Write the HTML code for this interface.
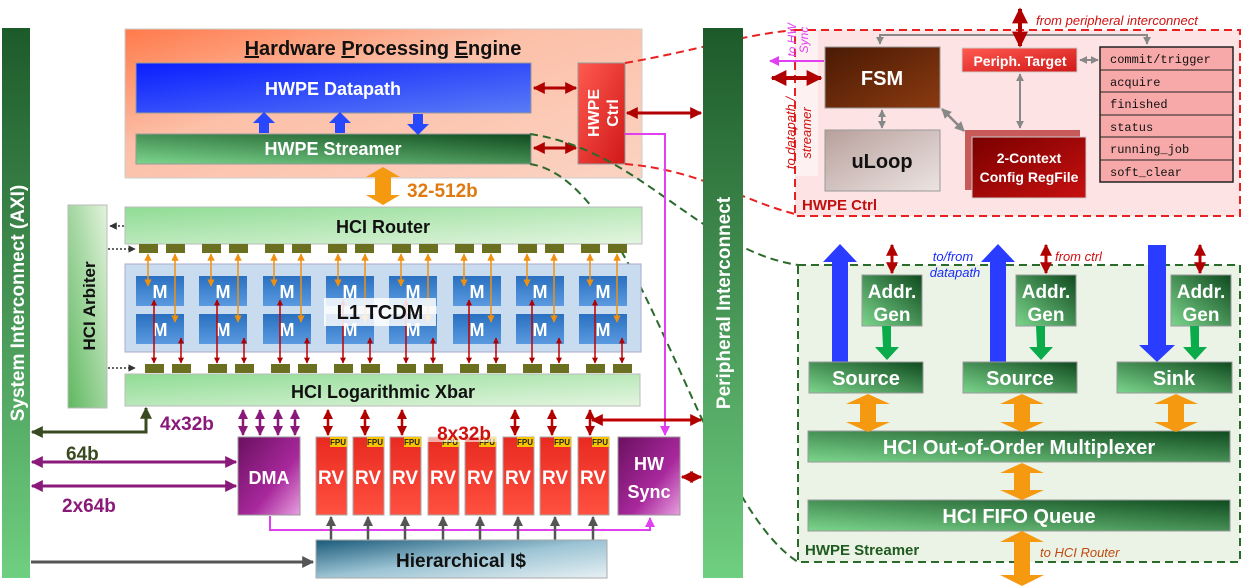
<!DOCTYPE html>
<html><head><meta charset="utf-8"><style>
html,body{margin:0;padding:0;background:#fff;}
svg{display:block;font-family:"Liberation Sans",sans-serif;}
</style></head><body>
<svg width="1246" height="587" viewBox="0 0 1246 587" xmlns="http://www.w3.org/2000/svg">
<defs>
<linearGradient id="gbar" x1="0" y1="0" x2="0" y2="1"><stop offset="0" stop-color="#1d5a2a"/><stop offset="1" stop-color="#6fcf80"/></linearGradient>
<linearGradient id="hpe" x1="0" y1="0" x2="1" y2="1"><stop offset="0" stop-color="#ff7a4a"/><stop offset="0.4" stop-color="#fcc0a8"/><stop offset="1" stop-color="#fbd3c3"/></linearGradient>
<linearGradient id="blue" x1="0" y1="0" x2="1" y2="1"><stop offset="0" stop-color="#0a1dff"/><stop offset="1" stop-color="#5a7cf5"/></linearGradient>
<linearGradient id="dgreen" x1="1" y1="0" x2="0" y2="1"><stop offset="0" stop-color="#0f4a1e"/><stop offset="1" stop-color="#7cd68c"/></linearGradient>
<linearGradient id="lgreen" x1="0" y1="0" x2="1" y2="1"><stop offset="0" stop-color="#8fdc94"/><stop offset="1" stop-color="#e4f5e0"/></linearGradient>
<linearGradient id="arb" x1="0" y1="1" x2="1" y2="0"><stop offset="0" stop-color="#5fb860"/><stop offset="1" stop-color="#e2f3dc"/></linearGradient>
<linearGradient id="red" x1="0" y1="0" x2="1" y2="1"><stop offset="0" stop-color="#ff5a50"/><stop offset="1" stop-color="#d01818"/></linearGradient>
<linearGradient id="rv" x1="0" y1="0" x2="0" y2="1"><stop offset="0" stop-color="#e82a20"/><stop offset="1" stop-color="#ff5040"/></linearGradient>
<linearGradient id="purp" x1="0" y1="0" x2="1" y2="1"><stop offset="0" stop-color="#6a1060"/><stop offset="0.6" stop-color="#a8289c"/><stop offset="1" stop-color="#e8a0e0"/></linearGradient>
<linearGradient id="mb" x1="0" y1="0" x2="0" y2="1"><stop offset="0" stop-color="#2a70c0"/><stop offset="1" stop-color="#5a9ae0"/></linearGradient>
<linearGradient id="ic" x1="0" y1="0" x2="1" y2="1"><stop offset="0" stop-color="#1a5a7a"/><stop offset="0.5" stop-color="#9cc4d4"/><stop offset="1" stop-color="#e8f0f4"/></linearGradient>
<linearGradient id="fsm" x1="0" y1="0" x2="1" y2="1"><stop offset="0" stop-color="#4a1a05"/><stop offset="1" stop-color="#8a3a10"/></linearGradient>
<linearGradient id="uloop" x1="0" y1="0" x2="1" y2="1"><stop offset="0" stop-color="#b8a09c"/><stop offset="1" stop-color="#ece4e2"/></linearGradient>
<linearGradient id="cfg" x1="0" y1="0" x2="1" y2="1"><stop offset="0" stop-color="#7a0000"/><stop offset="1" stop-color="#c81010"/></linearGradient>
<marker id="ar" viewBox="0 0 10 10" refX="9" refY="5" markerWidth="4" markerHeight="4" orient="auto-start-reverse"><path d="M0,0L10,5L0,10z" fill="#b00000"/></marker>
<marker id="ap" viewBox="0 0 10 10" refX="9" refY="5" markerWidth="4" markerHeight="4" orient="auto-start-reverse"><path d="M0,0L10,5L0,10z" fill="#8a1a7a"/></marker>
<marker id="ag" viewBox="0 0 10 10" refX="9" refY="5" markerWidth="4" markerHeight="4" orient="auto-start-reverse"><path d="M0,0L10,5L0,10z" fill="#555"/></marker>
<marker id="agr" viewBox="0 0 10 10" refX="9" refY="5" markerWidth="4" markerHeight="4" orient="auto-start-reverse"><path d="M0,0L10,5L0,10z" fill="#888"/></marker>
<marker id="ao" viewBox="0 0 10 10" refX="9" refY="5" markerWidth="5" markerHeight="5" orient="auto-start-reverse"><path d="M0,0L10,5L0,10z" fill="#f09010"/></marker>
<marker id="am" viewBox="0 0 10 10" refX="9" refY="5" markerWidth="5" markerHeight="5" orient="auto-start-reverse"><path d="M0,0L10,5L0,10z" fill="#e040f0"/></marker>
<marker id="aol" viewBox="0 0 10 10" refX="9" refY="5" markerWidth="4" markerHeight="4" orient="auto-start-reverse"><path d="M0,0L10,5L0,10z" fill="#3a4a20"/></marker>
<marker id="adk" viewBox="0 0 10 10" refX="9" refY="5" markerWidth="5" markerHeight="5" orient="auto-start-reverse"><path d="M0,0L10,5L0,10z" fill="#333"/></marker>
</defs>

<!-- System interconnect -->
<rect x="2" y="28" width="28" height="550" fill="url(#gbar)"/>
<text transform="translate(24,303) rotate(-90)" text-anchor="middle" font-size="19" font-weight="bold" fill="#fff">System Interconnect (AXI)</text>

<!-- HPE -->
<rect x="125" y="29" width="517" height="149" fill="url(#hpe)" stroke="#ccc"/>
<text x="383" y="55" text-anchor="middle" font-size="20" font-weight="bold" fill="#111"><tspan text-decoration="underline">H</tspan>ardware <tspan text-decoration="underline">P</tspan>rocessing <tspan text-decoration="underline">E</tspan>ngine</text>
<rect x="136" y="63" width="395" height="50" fill="url(#blue)" stroke="#999"/>
<text x="333" y="95" text-anchor="middle" font-size="18" font-weight="bold" fill="#fff">HWPE Datapath</text>
<rect x="136" y="134" width="395" height="30" fill="url(#dgreen)" stroke="#999"/>
<text x="333" y="155" text-anchor="middle" font-size="18" font-weight="bold" fill="#fff">HWPE Streamer</text>
<path d="M259,133 v-10 h-6 l11,-11 l11,11 h-6 v10z" fill="#2848ff"/>
<path d="M335,133 v-10 h-6 l11,-11 l11,11 h-6 v10z" fill="#2848ff"/>
<path d="M413,114 v10 h-6 l11,11 l11,-11 h-6 v-10z" fill="#2848ff"/>
<rect x="578" y="63" width="47" height="101" fill="url(#red)" stroke="#999"/>
<text transform="translate(599,113) rotate(-90)" text-anchor="middle" font-size="16" font-weight="bold" fill="#fff">HWPE</text>
<text transform="translate(618,113) rotate(-90)" text-anchor="middle" font-size="16" font-weight="bold" fill="#fff">Ctrl</text>
<line x1="534" y1="88" x2="576" y2="88" stroke="#b00000" stroke-width="3" marker-start="url(#ar)" marker-end="url(#ar)"/>
<line x1="534" y1="148" x2="576" y2="148" stroke="#b00000" stroke-width="3" marker-start="url(#ar)" marker-end="url(#ar)"/>

<!-- dashed curves (on top) -->
<path d="M625,63 C700,50 740,35 795,30" fill="none" stroke="#e82020" stroke-width="2" stroke-dasharray="8,5"/>
<path d="M625,164 C700,170 740,200 795,214" fill="none" stroke="#e82020" stroke-width="2" stroke-dasharray="8,5"/>
<path d="M530,134 C640,150 700,250 798,265" fill="none" stroke="#2a6a2a" stroke-width="2" stroke-dasharray="8,5"/>
<path d="M530,164 C640,180 700,500 798,562" fill="none" stroke="#2a6a2a" stroke-width="2" stroke-dasharray="8,5"/>

<!-- Peripheral interconnect -->
<rect x="703" y="28" width="40" height="550" fill="url(#gbar)"/>
<text transform="translate(730,303) rotate(-90)" text-anchor="middle" font-size="19" font-weight="bold" fill="#fff">Peripheral Interconnect</text>
<line x1="627" y1="113" x2="701" y2="113" stroke="#b00000" stroke-width="3" marker-start="url(#ar)" marker-end="url(#ar)"/>

<!-- magenta -->
<path d="M625,134 H665 V435" fill="none" stroke="#e040f0" stroke-width="2" marker-end="url(#am)"/>
<path d="M270,516 V530 H650 V518" fill="none" stroke="#e040f0" stroke-width="2" marker-end="url(#am)"/>

<!-- orange 32-512 -->
<path d="M383,167 l17,10 h-9 v18 h9 l-17,10 l-17,-10 h9 v-18 h-9z" fill="#f59a10"/>
<text x="407" y="197" font-size="19" font-weight="bold" fill="#e07a10">32-512b</text>

<!-- HCI Router -->
<rect x="125" y="207" width="517" height="37" fill="url(#lgreen)" stroke="#bbb"/>
<text x="383" y="233" text-anchor="middle" font-size="18" font-weight="bold" fill="#111">HCI Router</text>
<rect x="68" y="205" width="39" height="203" fill="url(#arb)" stroke="#bbb"/>
<text transform="translate(95,306) rotate(-90)" text-anchor="middle" font-size="17" font-weight="bold" fill="#111">HCI Arbiter</text>
<line x1="124" y1="226" x2="110" y2="226" stroke="#333" stroke-width="1.5" stroke-dasharray="2,2" marker-end="url(#adk)"/>
<line x1="108" y1="249" x2="135" y2="249" stroke="#333" stroke-width="1.5" stroke-dasharray="2,2" marker-end="url(#adk)"/>
<line x1="108" y1="368" x2="135" y2="368" stroke="#333" stroke-width="1.5" stroke-dasharray="2,2" marker-end="url(#adk)"/>

<!-- TCDM -->
<rect x="125" y="264" width="516" height="88" fill="#c9dcef" stroke="#aac"/>
<g fill="#6b7020">
<rect x="139" y="244" width="19" height="9"/><rect x="166" y="244" width="19" height="9"/>
<rect x="202" y="244" width="19" height="9"/><rect x="229" y="244" width="19" height="9"/>
<rect x="265" y="244" width="19" height="9"/><rect x="292" y="244" width="19" height="9"/>
<rect x="328" y="244" width="19" height="9"/><rect x="355" y="244" width="19" height="9"/>
<rect x="392" y="244" width="19" height="9"/><rect x="419" y="244" width="19" height="9"/>
<rect x="455" y="244" width="19" height="9"/><rect x="482" y="244" width="19" height="9"/>
<rect x="518" y="244" width="19" height="9"/><rect x="545" y="244" width="19" height="9"/>
<rect x="581" y="244" width="19" height="9"/><rect x="608" y="244" width="19" height="9"/>
<rect x="145" y="364" width="19" height="9"/><rect x="172" y="364" width="19" height="9"/>
<rect x="208" y="364" width="19" height="9"/><rect x="235" y="364" width="19" height="9"/>
<rect x="271" y="364" width="19" height="9"/><rect x="298" y="364" width="19" height="9"/>
<rect x="334" y="364" width="19" height="9"/><rect x="361" y="364" width="19" height="9"/>
<rect x="397" y="364" width="19" height="9"/><rect x="424" y="364" width="19" height="9"/>
<rect x="460" y="364" width="19" height="9"/><rect x="487" y="364" width="19" height="9"/>
<rect x="523" y="364" width="19" height="9"/><rect x="550" y="364" width="19" height="9"/>
<rect x="586" y="364" width="19" height="9"/><rect x="613" y="364" width="19" height="9"/>
</g>
<g font-size="18" font-weight="bold" fill="#fff" text-anchor="middle">
<rect x="136" y="276" width="48" height="30" fill="url(#mb)"/><rect x="136" y="314" width="48" height="30" fill="url(#mb)"/><text x="160" y="298">M</text><text x="160" y="336">M</text>
<rect x="199" y="276" width="48" height="30" fill="url(#mb)"/><rect x="199" y="314" width="48" height="30" fill="url(#mb)"/><text x="223" y="298">M</text><text x="223" y="336">M</text>
<rect x="263" y="276" width="48" height="30" fill="url(#mb)"/><rect x="263" y="314" width="48" height="30" fill="url(#mb)"/><text x="287" y="298">M</text><text x="287" y="336">M</text>
<rect x="326" y="276" width="48" height="30" fill="url(#mb)"/><rect x="326" y="314" width="48" height="30" fill="url(#mb)"/><text x="350" y="298">M</text><text x="350" y="336">M</text>
<rect x="389" y="276" width="48" height="30" fill="url(#mb)"/><rect x="389" y="314" width="48" height="30" fill="url(#mb)"/><text x="413" y="298">M</text><text x="413" y="336">M</text>
<rect x="453" y="276" width="48" height="30" fill="url(#mb)"/><rect x="453" y="314" width="48" height="30" fill="url(#mb)"/><text x="477" y="298">M</text><text x="477" y="336">M</text>
<rect x="516" y="276" width="48" height="30" fill="url(#mb)"/><rect x="516" y="314" width="48" height="30" fill="url(#mb)"/><text x="540" y="298">M</text><text x="540" y="336">M</text>
<rect x="579" y="276" width="48" height="30" fill="url(#mb)"/><rect x="579" y="314" width="48" height="30" fill="url(#mb)"/><text x="603" y="298">M</text><text x="603" y="336">M</text>
</g>
<g stroke="#f09010" stroke-width="1.5">
<line x1="148" y1="254" x2="148" y2="286" marker-start="url(#ao)" marker-end="url(#ao)"/><line x1="175" y1="254" x2="175" y2="322" marker-start="url(#ao)" marker-end="url(#ao)"/>
<line x1="211" y1="254" x2="211" y2="286" marker-start="url(#ao)" marker-end="url(#ao)"/><line x1="238" y1="254" x2="238" y2="322" marker-start="url(#ao)" marker-end="url(#ao)"/>
<line x1="274" y1="254" x2="274" y2="286" marker-start="url(#ao)" marker-end="url(#ao)"/><line x1="301" y1="254" x2="301" y2="322" marker-start="url(#ao)" marker-end="url(#ao)"/>
<line x1="338" y1="254" x2="338" y2="286" marker-start="url(#ao)" marker-end="url(#ao)"/><line x1="365" y1="254" x2="365" y2="322" marker-start="url(#ao)" marker-end="url(#ao)"/>
<line x1="401" y1="254" x2="401" y2="286" marker-start="url(#ao)" marker-end="url(#ao)"/><line x1="428" y1="254" x2="428" y2="322" marker-start="url(#ao)" marker-end="url(#ao)"/>
<line x1="464" y1="254" x2="464" y2="286" marker-start="url(#ao)" marker-end="url(#ao)"/><line x1="491" y1="254" x2="491" y2="322" marker-start="url(#ao)" marker-end="url(#ao)"/>
<line x1="527" y1="254" x2="527" y2="286" marker-start="url(#ao)" marker-end="url(#ao)"/><line x1="554" y1="254" x2="554" y2="322" marker-start="url(#ao)" marker-end="url(#ao)"/>
<line x1="590" y1="254" x2="590" y2="286" marker-start="url(#ao)" marker-end="url(#ao)"/><line x1="617" y1="254" x2="617" y2="322" marker-start="url(#ao)" marker-end="url(#ao)"/>
</g>
<g stroke="#c00000" stroke-width="1.5">
<line x1="154" y1="363" x2="154" y2="300" marker-start="url(#ar)" marker-end="url(#ar)"/><line x1="181" y1="363" x2="181" y2="338" marker-start="url(#ar)" marker-end="url(#ar)"/>
<line x1="217" y1="363" x2="217" y2="300" marker-start="url(#ar)" marker-end="url(#ar)"/><line x1="244" y1="363" x2="244" y2="338" marker-start="url(#ar)" marker-end="url(#ar)"/>
<line x1="280" y1="363" x2="280" y2="300" marker-start="url(#ar)" marker-end="url(#ar)"/><line x1="307" y1="363" x2="307" y2="338" marker-start="url(#ar)" marker-end="url(#ar)"/>
<line x1="343" y1="363" x2="343" y2="300" marker-start="url(#ar)" marker-end="url(#ar)"/><line x1="370" y1="363" x2="370" y2="338" marker-start="url(#ar)" marker-end="url(#ar)"/>
<line x1="406" y1="363" x2="406" y2="300" marker-start="url(#ar)" marker-end="url(#ar)"/><line x1="433" y1="363" x2="433" y2="338" marker-start="url(#ar)" marker-end="url(#ar)"/>
<line x1="469" y1="363" x2="469" y2="300" marker-start="url(#ar)" marker-end="url(#ar)"/><line x1="496" y1="363" x2="496" y2="338" marker-start="url(#ar)" marker-end="url(#ar)"/>
<line x1="532" y1="363" x2="532" y2="300" marker-start="url(#ar)" marker-end="url(#ar)"/><line x1="559" y1="363" x2="559" y2="338" marker-start="url(#ar)" marker-end="url(#ar)"/>
<line x1="595" y1="363" x2="595" y2="300" marker-start="url(#ar)" marker-end="url(#ar)"/><line x1="622" y1="363" x2="622" y2="338" marker-start="url(#ar)" marker-end="url(#ar)"/>
</g>
<rect x="324" y="298" width="112" height="28" fill="#fff" opacity="0.85"/>
<text x="380" y="319" text-anchor="middle" font-size="20" font-weight="bold" fill="#111">L1 TCDM</text>

<!-- Xbar -->
<rect x="125" y="374" width="515" height="32" fill="url(#lgreen)" stroke="#bbb"/>
<text x="383" y="398" text-anchor="middle" font-size="18" font-weight="bold" fill="#111">HCI Logarithmic Xbar</text>

<path d="M146,408 V432 H32" fill="none" stroke="#3a4a20" stroke-width="3" marker-start="url(#aol)" marker-end="url(#aol)"/>
<text x="66" y="460" font-size="19" font-weight="bold" fill="#3a4a20">64b</text>
<line x1="32" y1="462" x2="236" y2="462" stroke="#8a1a7a" stroke-width="3" marker-start="url(#ap)" marker-end="url(#ap)"/>
<line x1="32" y1="486" x2="236" y2="486" stroke="#8a1a7a" stroke-width="3" marker-start="url(#ap)" marker-end="url(#ap)"/>
<text x="62" y="512" font-size="19" font-weight="bold" fill="#8a1a7a">2x64b</text>
<text x="160" y="430" font-size="19" font-weight="bold" fill="#8a1a7a">4x32b</text>
<g stroke="#8a1a7a" stroke-width="2.5">
<line x1="243" y1="410" x2="243" y2="435" marker-start="url(#ap)" marker-end="url(#ap)"/>
<line x1="260" y1="410" x2="260" y2="435" marker-start="url(#ap)" marker-end="url(#ap)"/>
<line x1="278" y1="410" x2="278" y2="435" marker-start="url(#ap)" marker-end="url(#ap)"/>
<line x1="295" y1="410" x2="295" y2="435" marker-start="url(#ap)" marker-end="url(#ap)"/>
</g>
<rect x="238" y="437" width="62" height="78" fill="url(#purp)" stroke="#999"/>
<text x="269" y="484" text-anchor="middle" font-size="18" font-weight="bold" fill="#fff">DMA</text>

<g font-weight="bold" text-anchor="middle">
<g stroke="#c00000" stroke-width="2.5">
<line x1="328" y1="410" x2="328" y2="435" marker-start="url(#ar)" marker-end="url(#ar)"/>
<line x1="365" y1="410" x2="365" y2="435" marker-start="url(#ar)" marker-end="url(#ar)"/>
<line x1="402" y1="410" x2="402" y2="435" marker-start="url(#ar)" marker-end="url(#ar)"/>
<line x1="515" y1="410" x2="515" y2="435" marker-start="url(#ar)" marker-end="url(#ar)"/>
<line x1="552" y1="410" x2="552" y2="435" marker-start="url(#ar)" marker-end="url(#ar)"/>
<line x1="590" y1="410" x2="590" y2="435" marker-start="url(#ar)" marker-end="url(#ar)"/>
</g>
<line x1="592" y1="420" x2="701" y2="420" stroke="#c00000" stroke-width="3" marker-start="url(#ar)" marker-end="url(#ar)"/>
<rect x="316" y="437" width="31" height="78" fill="url(#rv)" stroke="#aaa"/><rect x="353" y="437" width="31" height="78" fill="url(#rv)" stroke="#aaa"/>
<rect x="390" y="437" width="31" height="78" fill="url(#rv)" stroke="#aaa"/><rect x="428" y="437" width="31" height="78" fill="url(#rv)" stroke="#aaa"/>
<rect x="465" y="437" width="31" height="78" fill="url(#rv)" stroke="#aaa"/><rect x="503" y="437" width="31" height="78" fill="url(#rv)" stroke="#aaa"/>
<rect x="540" y="437" width="31" height="78" fill="url(#rv)" stroke="#aaa"/><rect x="578" y="437" width="31" height="78" fill="url(#rv)" stroke="#aaa"/>
<g fill="#f8c400"><rect x="330" y="437" width="17" height="10"/><rect x="367" y="437" width="17" height="10"/><rect x="404" y="437" width="17" height="10"/><rect x="442" y="437" width="17" height="10"/><rect x="479" y="437" width="17" height="10"/><rect x="517" y="437" width="17" height="10"/><rect x="554" y="437" width="17" height="10"/><rect x="592" y="437" width="17" height="10"/></g>
<g font-size="8" fill="#222"><text x="338" y="445">FPU</text><text x="375" y="445">FPU</text><text x="412" y="445">FPU</text><text x="450" y="445">FPU</text><text x="487" y="445">FPU</text><text x="525" y="445">FPU</text><text x="562" y="445">FPU</text><text x="600" y="445">FPU</text></g>
<g font-size="19" fill="#fff"><text x="331" y="484">RV</text><text x="368" y="484">RV</text><text x="405" y="484">RV</text><text x="443" y="484">RV</text><text x="480" y="484">RV</text><text x="518" y="484">RV</text><text x="555" y="484">RV</text><text x="593" y="484">RV</text></g>
<rect x="426" y="418" width="76" height="24" fill="#fff" opacity="0.6"/>
<text x="464" y="440" font-size="19" fill="#d01010">8x32b</text>
</g>
<rect x="618" y="437" width="62" height="78" fill="url(#purp)" stroke="#999"/>
<text x="649" y="470" text-anchor="middle" font-size="18" font-weight="bold" fill="#fff">HW</text>
<text x="649" y="498" text-anchor="middle" font-size="18" font-weight="bold" fill="#fff">Sync</text>
<line x1="682" y1="477" x2="701" y2="477" stroke="#c00000" stroke-width="3" marker-start="url(#ar)" marker-end="url(#ar)"/>

<g stroke="#555" stroke-width="2.5">
<line x1="331" y1="540" x2="331" y2="517" marker-end="url(#ag)"/><line x1="368" y1="540" x2="368" y2="517" marker-end="url(#ag)"/>
<line x1="405" y1="540" x2="405" y2="517" marker-end="url(#ag)"/><line x1="443" y1="540" x2="443" y2="517" marker-end="url(#ag)"/>
<line x1="480" y1="540" x2="480" y2="517" marker-end="url(#ag)"/><line x1="518" y1="540" x2="518" y2="517" marker-end="url(#ag)"/>
<line x1="555" y1="540" x2="555" y2="517" marker-end="url(#ag)"/><line x1="593" y1="540" x2="593" y2="517" marker-end="url(#ag)"/>
<line x1="31" y1="562" x2="313" y2="562" stroke-width="3" marker-end="url(#ag)"/>
</g>
<rect x="316" y="540" width="291" height="38" fill="url(#ic)" stroke="#aaa"/>
<text x="461" y="567" text-anchor="middle" font-size="19" font-weight="bold" fill="#111">Hierarchical I$</text>

<!-- HWPE Ctrl detail -->
<rect x="795" y="30" width="445" height="186" fill="#fde3e3" stroke="#e82020" stroke-width="2" stroke-dasharray="8,5"/>
<rect x="796" y="31" width="22" height="145" fill="#fff" opacity="0.5"/>
<path d="M880,44 V35 H1147 V44" fill="none" stroke="#888" stroke-width="2" marker-start="url(#agr)" marker-end="url(#agr)"/>
<line x1="1020" y1="9" x2="1020" y2="46" stroke="#b00000" stroke-width="4" marker-start="url(#ar)" marker-end="url(#ar)"/>
<text x="1036" y="25" font-size="13" font-style="italic" fill="#d01010">from peripheral interconnect</text>
<rect x="825" y="47" width="115" height="61" fill="url(#fsm)" stroke="#999"/>
<text x="882" y="85" text-anchor="middle" font-size="20" font-weight="bold" fill="#fff">FSM</text>
<rect x="825" y="130" width="115" height="61" fill="url(#uloop)" stroke="#999"/>
<text x="882" y="168" text-anchor="middle" font-size="20" font-weight="bold" fill="#111">uLoop</text>
<line x1="882" y1="110" x2="882" y2="128" stroke="#888" stroke-width="2" marker-start="url(#agr)" marker-end="url(#agr)"/>
<line x1="942" y1="109" x2="964" y2="131" stroke="#888" stroke-width="2.5" marker-start="url(#agr)" marker-end="url(#agr)"/>
<rect x="962" y="48" width="115" height="24" fill="url(#red)" stroke="#ccc"/>
<text x="1020" y="66" text-anchor="middle" font-size="14" font-weight="bold" fill="#fff">Periph. Target</text>
<line x1="1080" y1="60" x2="1098" y2="60" stroke="#888" stroke-width="2" marker-start="url(#agr)" marker-end="url(#agr)"/>
<line x1="1020" y1="74" x2="1020" y2="128" stroke="#888" stroke-width="2" marker-start="url(#agr)" marker-end="url(#agr)"/>
<rect x="965" y="130" width="115" height="60" fill="#b02020" opacity="0.7"/>
<rect x="972" y="137" width="114" height="61" fill="url(#cfg)" stroke="#ccc"/>
<text x="1029" y="163" text-anchor="middle" font-size="14" font-weight="bold" fill="#fff">2-Context</text>
<text x="1029" y="182" text-anchor="middle" font-size="14" font-weight="bold" fill="#fff">Config RegFile</text>
<g font-family="'Liberation Mono',monospace" font-size="12" fill="#111">
<rect x="1100" y="47" width="133" height="135" fill="#f7a8a8" stroke="#222" stroke-width="1.5"/>
<line x1="1100" y1="70" x2="1233" y2="70" stroke="#222"/><line x1="1100" y1="92" x2="1233" y2="92" stroke="#222"/>
<line x1="1100" y1="115" x2="1233" y2="115" stroke="#222"/><line x1="1100" y1="137" x2="1233" y2="137" stroke="#222"/>
<line x1="1100" y1="160" x2="1233" y2="160" stroke="#222"/>
<text x="1110" y="63">commit/trigger</text><text x="1110" y="86">acquire</text><text x="1110" y="108">finished</text>
<text x="1110" y="131">status</text><text x="1110" y="153">running_job</text><text x="1110" y="176">soft_clear</text>
</g>
<text x="802" y="210" font-size="15" font-weight="bold" fill="#c01010">HWPE Ctrl</text>
<line x1="824" y1="61" x2="770" y2="61" stroke="#e040f0" stroke-width="2" marker-end="url(#am)"/>
<line x1="772" y1="78" x2="821" y2="78" stroke="#b00000" stroke-width="4" marker-start="url(#ar)" marker-end="url(#ar)"/>
<text transform="translate(796,40) rotate(-90)" text-anchor="middle" font-size="12" font-style="italic" fill="#e040f0">to HW</text>
<text transform="translate(808,40) rotate(-90)" text-anchor="middle" font-size="12" font-style="italic" fill="#e040f0">Sync</text>
<text transform="translate(795,133) rotate(-90)" text-anchor="middle" font-size="13" font-style="italic" fill="#d01010">to datapath /</text>
<text transform="translate(811,133) rotate(-90)" text-anchor="middle" font-size="13" font-style="italic" fill="#d01010">streamer</text>

<!-- Streamer detail -->
<rect x="798" y="265" width="442" height="297" fill="#ebf3e6" stroke="#2a6a2a" stroke-width="2" stroke-dasharray="8,5"/>
<path d="M832,362 V262 H823 L840,244 L857,262 H848 V362z" fill="#2a3cff"/>
<path d="M990,362 V262 H981 L998,244 L1015,262 H1006 V362z" fill="#2a3cff"/>
<path d="M1148,245 V345 H1139 L1157,362 L1175,345 H1166 V245z" fill="#2a3cff"/>
<text x="953" y="261" text-anchor="middle" font-size="13" font-style="italic" fill="#1a2aff">to/from</text>
<text x="955" y="277" text-anchor="middle" font-size="13" font-style="italic" fill="#1a2aff">datapath</text>
<text x="1055" y="261" font-size="13" font-style="italic" fill="#d01010">from ctrl</text>
<g stroke="#c00000" stroke-width="3">
<line x1="892" y1="245" x2="892" y2="273" marker-start="url(#ar)" marker-end="url(#ar)"/>
<line x1="1046" y1="245" x2="1046" y2="273" marker-start="url(#ar)" marker-end="url(#ar)"/>
<line x1="1200" y1="245" x2="1200" y2="273" marker-start="url(#ar)" marker-end="url(#ar)"/>
</g>
<g font-size="19" font-weight="bold" fill="#fff" text-anchor="middle">
<rect x="862" y="275" width="60" height="51" fill="url(#dgreen)" stroke="#999"/><text x="892" y="298">Addr.</text><text x="892" y="321">Gen</text>
<rect x="1016" y="275" width="60" height="51" fill="url(#dgreen)" stroke="#999"/><text x="1046" y="298">Addr.</text><text x="1046" y="321">Gen</text>
<rect x="1171" y="275" width="60" height="51" fill="url(#dgreen)" stroke="#999"/><text x="1201" y="298">Addr.</text><text x="1201" y="321">Gen</text>
</g>
<g fill="#0aab4a">
<path d="M882,326 h9 v21 h8 l-12,13 l-12,-13 h8z"/>
<path d="M1036,326 h9 v21 h8 l-12,13 l-12,-13 h8z"/>
<path d="M1190,326 h9 v21 h8 l-12,13 l-12,-13 h8z"/>
</g>
<g font-size="20" font-weight="bold" fill="#fff" text-anchor="middle">
<rect x="809" y="362" width="114" height="31" fill="url(#dgreen)" stroke="#999"/><text x="866" y="385">Source</text>
<rect x="963" y="362" width="114" height="31" fill="url(#dgreen)" stroke="#999"/><text x="1020" y="385">Source</text>
<rect x="1117" y="362" width="115" height="31" fill="url(#dgreen)" stroke="#999"/><text x="1174" y="385">Sink</text>
<rect x="808" y="431" width="422" height="31" fill="url(#dgreen)" stroke="#999"/><text x="1019" y="454">HCI Out-of-Order Multiplexer</text>
<rect x="808" y="500" width="422" height="31" fill="url(#dgreen)" stroke="#999"/><text x="1019" y="523">HCI FIFO Queue</text>
</g>
<g fill="#f59a10">
<path d="M868,394 l22,10 h-14 v18 h14 l-22,10 l-22,-10 h14 v-18 h-14z"/>
<path d="M1022,394 l22,10 h-14 v18 h14 l-22,10 l-22,-10 h14 v-18 h-14z"/>
<path d="M1176,394 l22,10 h-14 v18 h14 l-22,10 l-22,-10 h14 v-18 h-14z"/>
<path d="M1022,463 l22,10 h-14 v17 h14 l-22,10 l-22,-10 h14 v-17 h-14z"/>
<path d="M1022,531 l22,11 h-14 v33 h14 l-22,11 l-22,-11 h14 v-33 h-14z"/>
</g>
<text x="805" y="555" font-size="15" font-weight="bold" fill="#1f5a1f">HWPE Streamer</text>
<text x="1040" y="557" font-size="13" font-style="italic" fill="#c04a10">to HCI Router</text>
</svg>
</body></html>
